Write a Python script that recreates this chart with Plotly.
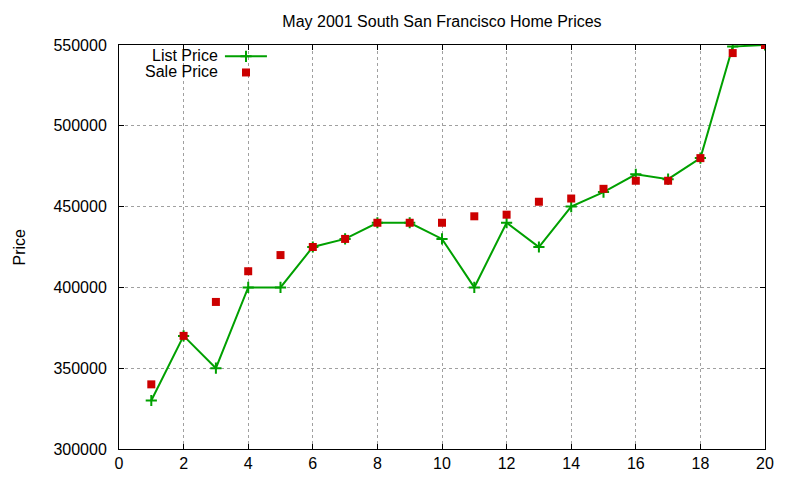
import plotly.graph_objects as go

x_vals = list(range(1, 21))
list_price = [330000, 370000, 350000, 400000, 400000, 425000, 430000, 440000, 440000, 430000,
              400000, 440000, 425000, 450000, 459000, 470000, 467000, 480000, 549000, 550000]
sale_price = [340000, 370000, 391000, 410000, 420000, 425000, 430000, 440000, 440000, 440000,
              444000, 445000, 453000, 455000, 461000, 466000, 466000, 480000, 545000, 550000]
x_ticks = list(range(0, 21, 2))
y_ticks = list(range(300000, 550001, 50000))
y_tick_text = [str(v) for v in y_ticks]

GREEN = "#00a000"
RED = "#cc0000"
FONT = "Liberation Sans, Arial, sans-serif"
FS = 16

# page body has an 8px default margin; size the figure to fit the window
W, H = 784, 464
ML = 111
PW = 646

fig = go.Figure()
fig.add_trace(go.Scatter(
    x=x_vals, y=list_price, mode="lines+markers", name="List Price",
    line=dict(color=GREEN, width=2),
    marker=dict(symbol="cross-thin", size=8, line=dict(color=GREEN, width=2)),
    showlegend=False,
))
fig.add_trace(go.Scatter(
    x=x_vals, y=sale_price, mode="markers", name="Sale Price",
    marker=dict(symbol="square", size=8, color=RED),
    showlegend=False,
))

# legend samples on a hidden overlay axis (gnuplot style: text left, sample right)
fig.add_trace(go.Scatter(
    x=[0.164, 0.229], y=[0.972, 0.972], mode="lines", xaxis="x2", yaxis="y2",
    line=dict(color=GREEN, width=2), showlegend=False, hoverinfo="skip"))
fig.add_trace(go.Scatter(
    x=[0.1966], y=[0.972], mode="markers", xaxis="x2", yaxis="y2",
    marker=dict(symbol="cross-thin", size=8, line=dict(color=GREEN, width=2)),
    showlegend=False, hoverinfo="skip"))
fig.add_trace(go.Scatter(
    x=[0.1966], y=[0.932], mode="markers", xaxis="x2", yaxis="y2",
    marker=dict(symbol="square", size=8, color=RED),
    showlegend=False, hoverinfo="skip"))

fig.add_annotation(x=0.1567, y=0.974, xref="paper", yref="paper", text="List Price",
                   showarrow=False, xanchor="right", yanchor="middle",
                   font=dict(family=FONT, size=FS, color="black"))
fig.add_annotation(x=0.1567, y=0.934, xref="paper", yref="paper", text="Sale Price",
                   showarrow=False, xanchor="right", yanchor="middle",
                   font=dict(family=FONT, size=FS, color="black"))
fig.add_annotation(x=(1 - ML) / PW, y=0.5, xref="paper", yref="paper", text="Price",
                   showarrow=False, textangle=-90, xanchor="left", yanchor="middle",
                   borderpad=0,
                   font=dict(family=FONT, size=FS, color="black"))

axis_common = dict(
    showline=True, linecolor="black", linewidth=1, mirror="ticks",
    ticks="inside", ticklen=5, tickcolor="black", tickwidth=1,
    showgrid=True, gridcolor="#a0a0a0", griddash="dot", gridwidth=1,
    zeroline=False, automargin=False,
    tickfont=dict(family=FONT, size=FS, color="black"),
)

fig.update_layout(
    width=W, height=H,
    margin=dict(l=ML, r=W - ML - PW, t=37, b=23, autoexpand=False),
    paper_bgcolor="white", plot_bgcolor="white",
    title=dict(text="May 2001 South San Francisco Home Prices", x=0.5, xref="paper",
               y=1 - 13 / H, yanchor="middle", automargin=False,
               font=dict(family=FONT, size=FS, color="black")),
    xaxis=dict(range=[0, 20], tickvals=x_ticks, **axis_common),
    yaxis=dict(range=[300000, 550000], tickvals=y_ticks, ticktext=y_tick_text,
               ticklabelstandoff=8, **axis_common),
    xaxis2=dict(range=[0, 1], overlaying="x", visible=False),
    yaxis2=dict(range=[0, 1], overlaying="y", visible=False),
)

fig.write_html("out.html")
